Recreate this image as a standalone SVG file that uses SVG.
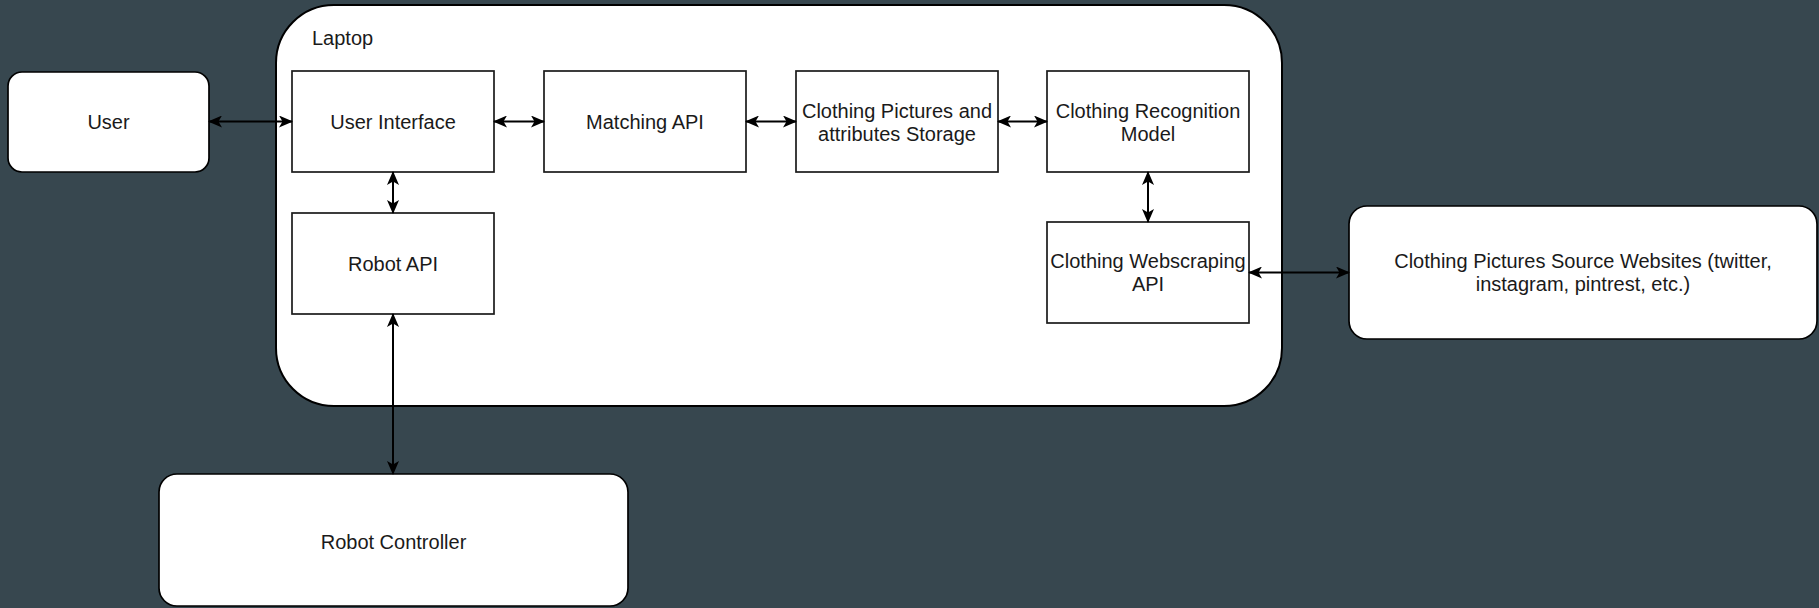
<svg xmlns="http://www.w3.org/2000/svg" width="1819" height="608" viewBox="0 0 1819 608">
<defs>
<style>
.bg{fill:#37474f}
.box{fill:#ffffff;stroke:#1a1a1a;stroke-width:1.7}
.rbox{fill:#ffffff;stroke:#000000;stroke-width:1.7}
.lap{fill:#ffffff;stroke:#000000;stroke-width:2}
.t{font-family:"Liberation Sans",Arial,sans-serif;font-size:20px;fill:#1a1a1a;text-anchor:middle;dominant-baseline:central}
.tl{font-family:"Liberation Sans",Arial,sans-serif;font-size:20px;fill:#1a1a1a}
.c{stroke:#000000;stroke-width:2;fill:none;marker-start:url(#ah);marker-end:url(#ah)}
</style>
<marker id="ah" viewBox="0 0 14 12" refX="13" refY="6" markerWidth="14" markerHeight="12" markerUnits="userSpaceOnUse" orient="auto-start-reverse">
<path d="M0,0 L14,6 L0,12 L3.5,6 z" fill="#000000"/>
</marker>
</defs>
<rect class="bg" x="0" y="0" width="1819" height="608"/>

<g id="laptop">
<rect class="lap" x="276" y="5" width="1006" height="401" rx="58" ry="58"/>
<text class="tl" x="312" y="45">Laptop</text>
</g>

<g id="user">
<rect class="rbox" x="8" y="72" width="201" height="100" rx="14" ry="14"/>
<text class="t" x="108.5" y="122">User</text>
</g>

<g id="user-interface">
<rect class="box" x="292" y="71" width="202" height="101"/>
<text class="t" x="393" y="122">User Interface</text>
</g>

<g id="matching-api">
<rect class="box" x="544" y="71" width="202" height="101"/>
<text class="t" x="645" y="122">Matching API</text>
</g>

<g id="storage">
<rect class="box" x="796" y="71" width="202" height="101"/>
<text class="t" x="897" y="110.5">Clothing Pictures and</text>
<text class="t" x="897" y="133.5">attributes Storage</text>
</g>

<g id="recognition">
<rect class="box" x="1047" y="71" width="202" height="101"/>
<text class="t" x="1148" y="110.5">Clothing Recognition</text>
<text class="t" x="1148" y="133.5">Model</text>
</g>

<g id="robot-api">
<rect class="box" x="292" y="213" width="202" height="101"/>
<text class="t" x="393" y="264">Robot API</text>
</g>

<g id="webscraping">
<rect class="box" x="1047" y="222" width="202" height="101"/>
<text class="t" x="1148" y="261">Clothing Webscraping</text>
<text class="t" x="1148" y="284">API</text>
</g>

<g id="source-websites">
<rect class="rbox" x="1349" y="206" width="468" height="133" rx="18" ry="18"/>
<text class="t" x="1583" y="261">Clothing Pictures Source Websites (twitter,</text>
<text class="t" x="1583" y="284">instagram, pintrest, etc.)</text>
</g>

<g id="robot-controller">
<rect class="rbox" x="159" y="474" width="469" height="132" rx="18" ry="18"/>
<text class="t" x="393.5" y="542">Robot Controller</text>
</g>

<g id="connectors">
<line class="c" x1="209" y1="121.5" x2="292" y2="121.5"/>
<line class="c" x1="494" y1="121.5" x2="544" y2="121.5"/>
<line class="c" x1="746" y1="121.5" x2="796" y2="121.5"/>
<line class="c" x1="998" y1="121.5" x2="1047" y2="121.5"/>
<line class="c" x1="393" y1="172" x2="393" y2="213"/>
<line class="c" x1="1148" y1="172" x2="1148" y2="222"/>
<line class="c" x1="1249" y1="272.5" x2="1349" y2="272.5"/>
<line class="c" x1="393" y1="314" x2="393" y2="474"/>
</g>
</svg>
